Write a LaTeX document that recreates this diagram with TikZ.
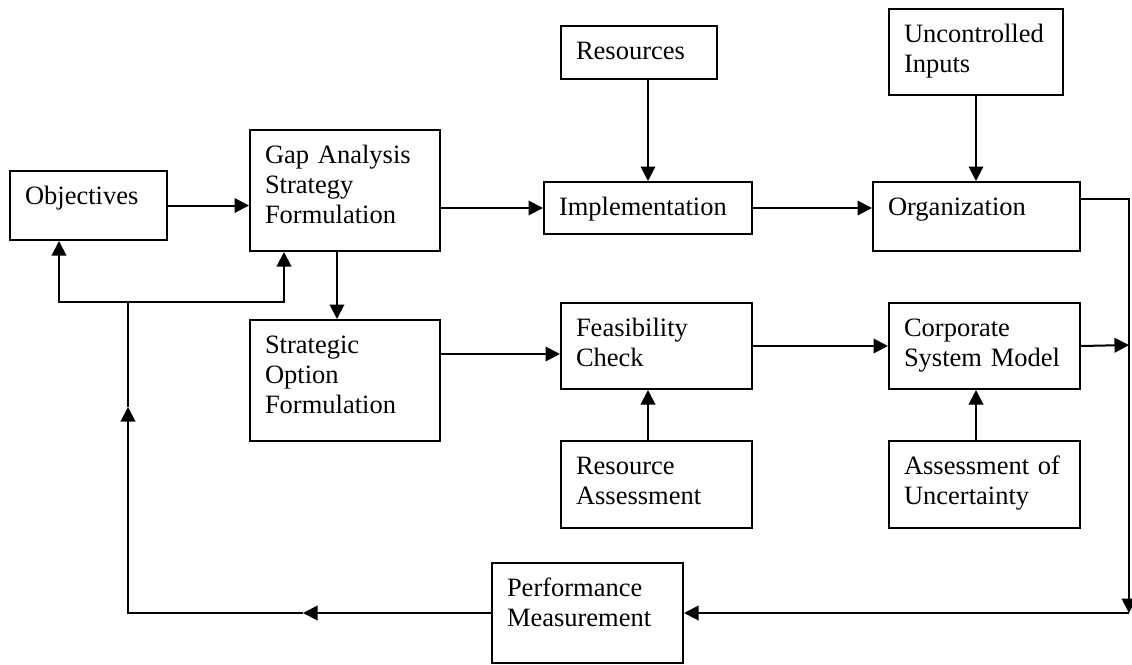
\documentclass[tikz,border=0pt]{standalone}
\usepackage{fontspec}
\setmainfont{Liberation Serif}
\usetikzlibrary{arrows.meta}
\begin{document}
\begin{tikzpicture}[x=1pt,y=-1pt,
  blk/.style={draw, line width=2pt, anchor=north west, inner xsep=15pt, inner ysep=0pt,
    align=left, text height=33pt, font=\fontsize{26.5pt}{30pt}\selectfont},
  conn/.style={line width=2pt},
  arr/.style={conn, -{Triangle[length=14.5pt,width=14.5pt]}}]
\useasboundingbox (0,0) rectangle (1132,664);
% boxes
\node[blk, text width=127pt, text depth=36pt] (obj)  at (9,170)   {Objectives};
\node[blk, text width=160pt, text depth=88pt] (gap)  at (249,129) {Gap Analysis\\Strategy\\Formulation};
\node[blk, text width=126pt, text depth=20pt] (res)  at (560,25)  {Resources};
\node[blk, text width=178pt, text depth=19pt] (impl) at (543,181) {Implementation};
\node[blk, text width=144pt, text depth=53pt] (unc)  at (888,8)   {Uncontrolled\\Inputs};
\node[blk, text width=177pt, text depth=36pt] (org)  at (872,181) {Organization};
\node[blk, text width=160pt, text depth=88pt] (sof)  at (249,319) {Strategic\\Option\\Formulation};
\node[blk, text width=161pt, text depth=53pt] (feas) at (560,302) {Feasibility\\Check};
\node[blk, text width=161pt, text depth=53pt] (csm)  at (888,302) {Corporate\\System Model};
\node[blk, text width=161pt, text depth=54pt] (ra)   at (560,440) {Resource\\Assessment};
\node[blk, text width=161pt, text depth=54pt] (aou)  at (888,440) {Assessment of\\Uncertainty};
\node[blk, text width=161pt, text depth=67pt] (perf) at (491,562) {Performance\\Measurement};
% helper coordinates
\coordinate (rT) at (1129,199);
\coordinate (rM) at (1129,345);
\coordinate (rB) at (1129,613);
\coordinate (fbJ) at (128,302);
\coordinate (bJ) at (128,613);
\coordinate (upT) at (128,407);
\coordinate (lfT) at (303,613);
\coordinate (fbL) at (59,302);
\coordinate (fbR) at (284,302);
% connectors
\draw[arr] (obj.east) -- (obj.east -| gap.west);
\draw[arr] (impl.west -| gap.east) -- (impl.west);
\draw[arr] (res.south -| impl.north) -- (impl.north);
\draw[arr] (impl.east) -- (impl.east -| org.west);
\draw[arr] (unc.south) -- (unc.south |- org.north);
\draw[arr] (rT -| org.east) -- (rT) -- (rB);
\draw[arr] (rB) -- (rB -| perf.east);
\draw[arr] (csm.east) -- (rM);
\draw[arr] (feas.east) -- (csm.west);
\draw[arr] ([yshift=-8pt]feas.west -| sof.east) -- ([yshift=-8pt]feas.west);
\draw[arr] ([xshift=-8pt]gap.south) -- ([xshift=-8pt]sof.north);
\draw[arr] ([xshift=-8.5pt]ra.north) -- ([xshift=-8.5pt]feas.south);
\draw[arr] ([xshift=-8.5pt]aou.north) -- ([xshift=-8.5pt]csm.south);
\draw[arr] (perf.west) -- (lfT);
\draw[arr] (lfT) -- (bJ) -- (upT);
\draw[conn] (upT) -- (fbJ);
\draw[arr] (fbJ) -- (fbL) -- (fbL |- obj.south);
\draw[arr] (fbJ) -- (fbR) -- (fbR |- gap.south);
\end{tikzpicture}
\end{document}
